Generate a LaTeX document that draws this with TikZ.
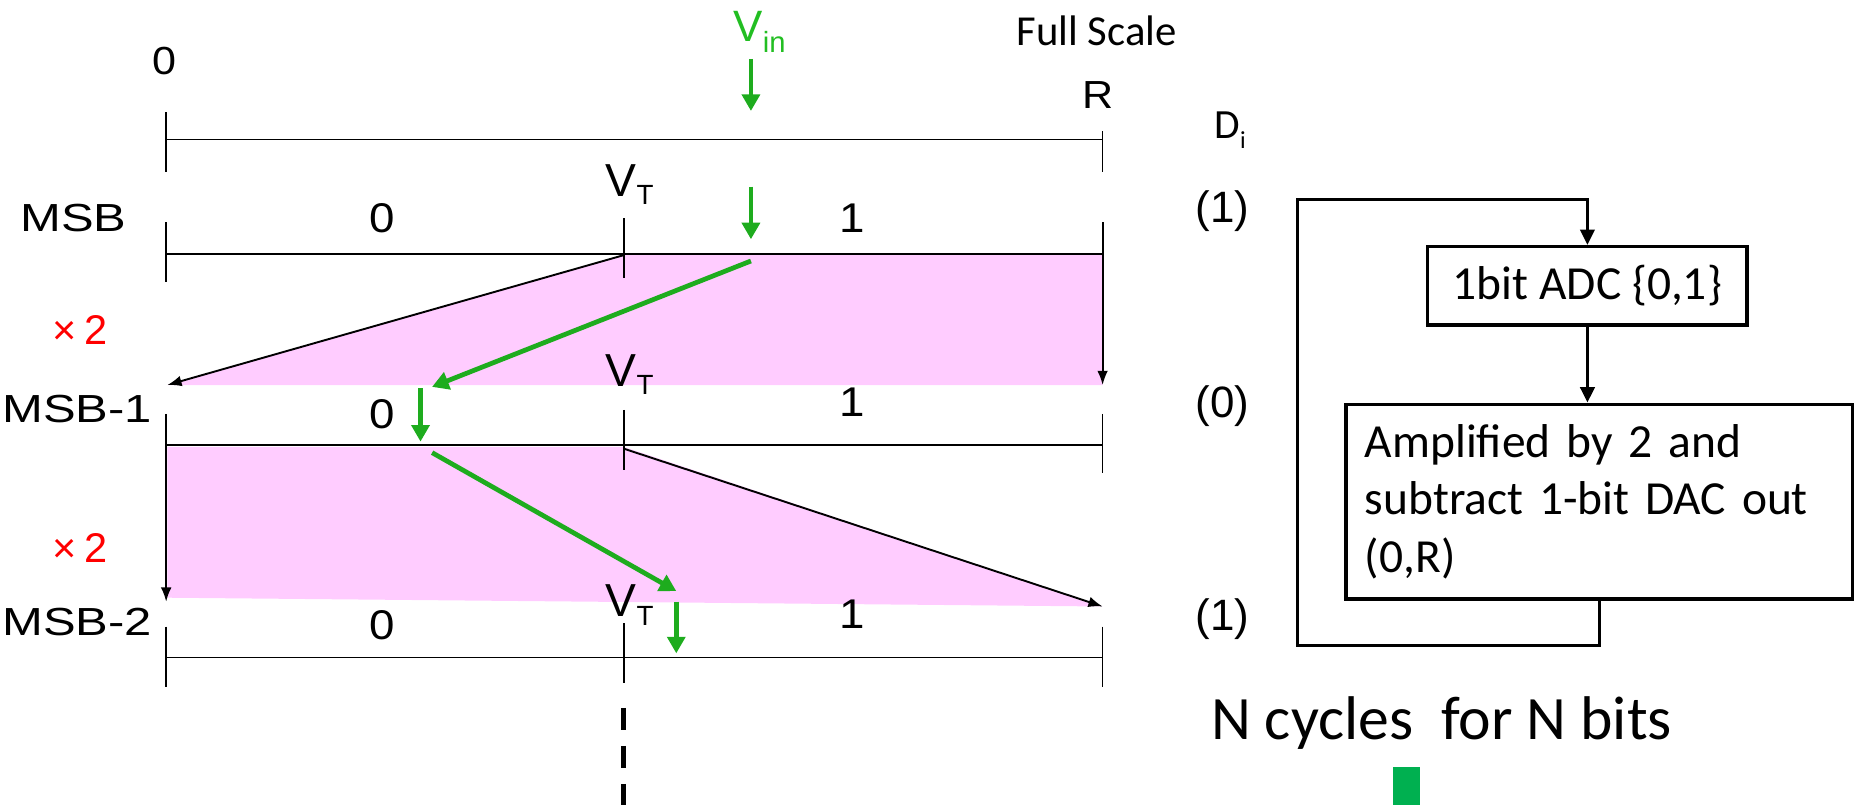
\documentclass[tikz,border=0pt]{standalone}
\usepackage{fontspec}
\usepackage{graphicx}
\setmainfont{Liberation Sans}
\newfontfamily\calibri{Carlito}
\usetikzlibrary{arrows.meta}
\definecolor{pinkfill}{RGB}{255,204,255}
\definecolor{arrgreen}{RGB}{30,172,30}
\definecolor{vingreen}{RGB}{34,190,34}
\definecolor{xred}{RGB}{255,0,0}
\definecolor{rectgreen}{RGB}{0,176,80}
\newcommand{\wide}[1]{\scalebox{1.1}[1]{#1}}
\begin{document}
\begin{tikzpicture}[x=0.5pt,y=-0.5pt,
  ruler/.style={line width=0.7pt},
  blk/.style={line width=0.8pt,-{Latex[length=6pt,width=4.5pt]}},
  grn/.style={draw=arrgreen,line width=2pt,-{Triangle[length=7pt,width=7.5pt]}},
  lbl/.style={inner sep=0pt},
  fsmall/.style={font=\fontsize{16.5}{19}\selectfont},
  fdigit/.style={font=\fontsize{17.5}{20}\selectfont},
  fmsb/.style={font=\fontsize{16.5}{19}\selectfont},
  fvt/.style={font=\fontsize{19.5}{22}\selectfont},
  fdi/.style={font=\fontsize{17.5}{20}\selectfont},
  fpar/.style={font=\fontsize{18.5}{21}\selectfont},
  boxtxt/.style={font=\calibri\fontsize{20}{24.3}\selectfont},
  boxline/.style={draw,line width=1.4pt},
  boxarr/.style={line width=1.4pt,-{Triangle[length=6.5pt,width=6pt]}}
]
\useasboundingbox (0,0) rectangle (1568,678);

% pink regions
\fill[pinkfill] (525.5,215) -- (929,215) -- (929,324.4) -- (141,324.4) -- cycle;
\fill[pinkfill] (141,376.5) -- (525.5,376.5) -- (929,511) -- (141,503.6) -- cycle;

% coordinates
\coordinate (tL) at (140,117.4);
\coordinate (tR) at (929,117.4);
\coordinate (r1L) at (140,214);
\coordinate (r1R) at (929,214);
\coordinate (r2L) at (140,374.9);
\coordinate (r2R) at (929,374.9);
\coordinate (r3L) at (140,554.1);
\coordinate (r3R) at (929,554.1);

% top scale
\draw[ruler] (tL) -- (tR);
\draw[ruler] (140,94.6) -- (140,144.6);
\draw[ruler] (929,110.4) -- (929,144.6);

% row 1
\draw[ruler] (r1L) -- (r1R);
\draw[ruler] (140,187.3) -- (140,237.3);
\draw[ruler] (525.5,184) -- (525.5,234.5);
\draw[blk] (929,187.3) -- (929,324.4);
\coordinate (a1s) at (525.5,215);
\coordinate (a1e) at (141,324.4);
\draw[blk] (a1s) -- (a1e);

% row 2
\draw[ruler] (r2L) -- (r2R);
\draw[blk] (140,348.8) -- (140,507);
\draw[ruler] (525.5,345.4) -- (525.5,396);
\draw[ruler] (929,348.8) -- (929,398.8);
\coordinate (a2s) at (525.5,378);
\coordinate (a2e) at (929,511);
\draw[blk] (a2s) -- (a2e);

% row 3
\draw[ruler] (r3L) -- (r3R);
\draw[ruler] (140,528) -- (140,578.6);
\draw[ruler] (525.5,525) -- (525.5,575.7);
\draw[ruler] (929,528) -- (929,578.6);

% dashed continuation
\coordinate (dS) at (525.5,596.5);
\coordinate (dE) at (525.5,678);
\draw[line width=2.1pt,dash pattern=on 9.25pt off 6.75pt] (dS) -- (dE);

% green arrows
\coordinate (g1s) at (632.7,49.7);   \coordinate (g1e) at (632.7,93.5);
\coordinate (g2s) at (632.7,157.3);  \coordinate (g2e) at (632.7,201.6);
\coordinate (g3s) at (632.7,219.9);  \coordinate (g3e) at (364,326);
\coordinate (g4s) at (354.3,327.2);  \coordinate (g4e) at (354.3,372.1);
\coordinate (g5s) at (364.1,381.4);  \coordinate (g5e) at (569.8,498);
\coordinate (g6s) at (569.8,507);    \coordinate (g6e) at (569.8,550.5);
\draw[grn] (g1s) -- (g1e);
\draw[grn] (g2s) -- (g2e);
\draw[grn] (g3s) -- (g3e);
\draw[grn] (g4s) -- (g4e);
\draw[grn] (g5s) -- (g5e);
\draw[grn] (g6s) -- (g6e);

% labels on scale
\node[lbl,fsmall] (zeroTop) at (138.8,51.4) {\wide{0}};
\node[lbl,fsmall] (Rtop) at (925,80) {\wide{R}};
\node[lbl,anchor=base west,font=\calibri\fontsize{18}{21}\selectfont] (fullscale) at (856,38.5) {Full Scale};
\node[lbl,anchor=base west,fdigit,font=\fontsize{18.5}{21}\selectfont,text=vingreen] (vin) at (617.6,35.1) {V\raisebox{-4.6pt}{\fontsize{12.3}{13}\selectfont in}};
\node[lbl,anchor=base west,fdi] (di) at (1023,116.5) {\calibri D\raisebox{-4.5pt}{\fontsize{10.3}{11}\selectfont i}};

\node[lbl,fmsb] (msb0) at (62,184) {\scalebox{1.25}[1]{MSB}};
\node[lbl,fmsb] (msb1) at (65,345) {\scalebox{1.25}[1]{MSB-1}};
\node[lbl,fmsb] (msb2) at (65,524) {\scalebox{1.25}[1]{MSB-2}};

\node[lbl,anchor=base west,fvt] (vt1) at (510,165.7) {V\raisebox{-3.5pt}{\fontsize{11.7}{12}\selectfont T}};
\node[lbl,anchor=base west,fvt] (vt2) at (510,325.8) {V\raisebox{-3.5pt}{\fontsize{11.7}{12}\selectfont T}};
\node[lbl,anchor=base west,fvt] (vt3) at (510,519.6) {V\raisebox{-3.5pt}{\fontsize{11.7}{12}\selectfont T}};

\node[lbl,fdigit] (z1) at (322,184) {\wide{0}};
\node[lbl,fdigit] (o1) at (718,184) {\wide{1}};
\node[lbl,fdigit] (z2) at (322,348.8) {\wide{0}};
\node[lbl,fdigit] (o2) at (718,339) {\wide{1}};
\node[lbl,fdigit] (z3) at (322,527) {\wide{0}};
\node[lbl,fdigit] (o3) at (718,517.3) {\wide{1}};

\node[lbl,fdigit,text=xred] (x2a) at (67.5,278) {×\,2};
\node[lbl,fdigit,text=xred] (x2b) at (67.5,462) {×\,2};

\node[lbl,fpar] (d1) at (1030,177.6) {(1)};
\node[lbl,fpar] (d0) at (1030,342.6) {(0)};
\node[lbl,fpar] (d2) at (1030,521.5) {(1)};

% right block
\node[boxline,boxtxt,minimum width=134.5pt,minimum height=33pt,inner sep=0pt] (adc) at (1337.5,240.8) {1bit ADC \{0,1\}};
\node[boxline,boxtxt,minimum width=213.5pt,minimum height=82pt,inner xsep=8pt,inner ysep=0pt,text width=197.5pt,align=left] (amp) at (1347.5,422.6) {Amplified by 2 and\\subtract 1-bit DAC out\\(0,R)};
\coordinate (loopTL) at (1093,168);
\coordinate (loopBL) at (1093,544);
\draw[boxarr] (amp.south) -- (amp.south |- loopBL) -- (loopBL) -- (loopTL) -- (adc.north |- loopTL) -- (adc.north);
\draw[boxarr] (adc.south) -- (adc.south |- amp.north);

\node[lbl,anchor=base west,font=\calibri\fontsize{26}{30}\selectfont] (ncyc) at (1020,622.8) {N cycles\ \ for N bits};
\node[fill=rectgreen,inner sep=0pt,minimum width=11.5pt,minimum height=16pt,anchor=north west] (grect) at (1173,646) {};
\end{tikzpicture}
\end{document}
